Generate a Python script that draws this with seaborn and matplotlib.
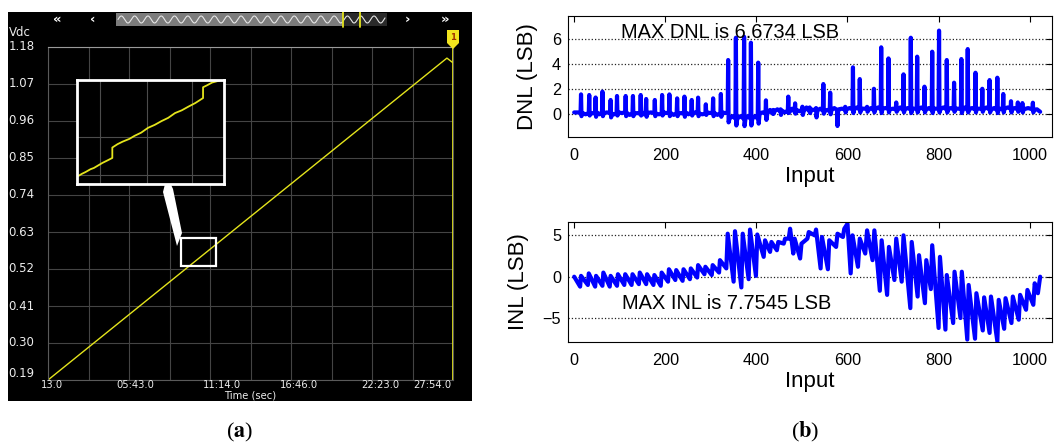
import numpy as np
import pandas as pd
import matplotlib
matplotlib.use("Agg")
import matplotlib.pyplot as plt
import seaborn as sns
from matplotlib.patches import Rectangle, Polygon

# ---------------- panel (a): oscilloscope ramp ----------------
ramp_div = [0.0, 9.85, 10.0]
ramp_vdc = [0.19, 1.147, 1.133]
vdc_ticks = [1.18, 1.07, 0.96, 0.85, 0.74, 0.63, 0.52, 0.41, 0.30, 0.19]
vdc_labels = ["1.18", "1.07", "0.96", "0.85", "0.74", "0.63", "0.52", "0.41", "0.30", "0.19"]
time_labels = ["13.0", "05:43.0", "11:14.0", "16:46.0", "22:23.0", "27:54.0"]
time_label_div = [0.1, 2.15, 4.3, 6.2, 8.2, 9.5]
zoom_div = [3.28, 4.15]
zoom_vdc = [0.529, 0.612]
inset_div = [3.28, 3.31, 3.33, 3.36, 3.38, 3.41, 3.43, 3.46, 3.489, 3.489, 3.52, 3.55, 3.59, 3.62, 3.66,
             3.70, 3.74, 3.78, 3.82, 3.86, 3.90, 3.94, 3.98, 4.026, 4.026, 4.05, 4.08, 4.15]
inset_vdc = [0.5348, 0.5372, 0.5385, 0.5408, 0.5418, 0.5442, 0.5458, 0.5478, 0.5498, 0.5581, 0.5608,
             0.5628, 0.5650, 0.5674, 0.5700, 0.5738, 0.5762, 0.5792, 0.5818, 0.5856, 0.5878, 0.5908,
             0.5936, 0.5976, 0.6062, 0.6078, 0.6100, 0.6125]

# ---------------- panel (b): DNL ----------------
dnl_spike_x = [15, 33, 47, 62, 80, 94, 113, 129, 146, 158,
               177, 193, 209, 226, 242, 258, 272, 289, 305, 322,
               338, 355, 373, 388, 404, 421, 437, 453, 470, 485,
               501, 517, 531, 547, 562, 578, 595, 612, 627, 643,
               658, 674, 690, 707, 723, 739, 753, 769, 786, 801,
               818, 834, 850, 864, 881, 896, 912, 929, 942, 959,
               974, 984, 1007]
dnl_spike_h = [1.55, 1.5, 1.3, 1.77, 1.1, 1.42, 1.42, 1.42, 1.5, 1.18,
               1.1, 1.5, 1.55, 1.23, 1.37, 1.1, 1.29, 0.75, 1.23, 1.58,
               4.31, 6.1, 6.18, 5.7, 4.1, 1.07, 0.3, 0.35, 1.37, 0.83,
               0.56, 0.5, 0.45, 2.38, 1.69, -0.99, 0.55, 3.72, 2.78, 0.55,
               2.0, 5.33, 4.44, 0.9, 3.16, 6.1, 4.58, 2.17, 4.98, 6.6734,
               4.31, 2.49, 4.39, 5.19, 3.29, 2.0, 2.7, 2.89, 1.58, 1.0,
               0.9, 0.85, 0.88]
dnl_dip = [-0.2, -0.15, -0.25, -0.2, -0.3, -0.15, -0.2, -0.2, -0.15, -0.25,
           -0.2, -0.15, -0.2, -0.2, -0.25, -0.15, -0.2, -0.1, -0.2, -0.25,
           -0.7, -0.95, -1.0, -0.95, -0.8, -0.5, 0.0, -0.1, 0.05, 0.0,
           -0.1, 0.05, -0.3, 0.0, -0.05, 0.1, 0.1, 0.05, 0.1, 0.15,
           0.1, 0.05, 0.1, 0.15, 0.1, 0.05, 0.1, 0.1, 0.05, 0.1,
           0.1, 0.15, 0.05, 0.1, 0.1, 0.15, 0.1, 0.05, 0.1, 0.1,
           0.15, 0.1, 0.1]
dnl_base = [0.05, 0.0, 0.1, 0.05, 0.0, 0.1, 0.05, 0.0, 0.1, 0.05,
            0.0, 0.1, 0.05, 0.0, 0.1, 0.05, 0.0, 0.1, 0.05, 0.1,
            -0.4, -0.4, -0.4, -0.4, 0.0, 0.0, 0.2, 0.25, 0.15, 0.3,
            0.2, 0.35, 0.25, 0.2, 0.3, 0.35, 0.35, 0.35, 0.4, 0.3,
            0.35, 0.4, 0.35, 0.3, 0.35, 0.4, 0.35, 0.3, 0.4, 0.35,
            0.35, 0.4, 0.3, 0.35, 0.4, 0.35, 0.3, 0.35, 0.4, 0.35,
            0.3, 0.35, 0.3]
dnl_mid = [-0.05, 0.05, -0.05, 0.1, -0.05, 0.05, -0.1, 0.05, -0.05, 0.1,
           -0.05, 0.05, -0.1, 0.05, -0.05, 0.1, -0.05, 0.05, -0.1, 0.05,
           -0.2, -0.2, -0.2, -0.2, 0.1, 0.3, 0.35, 0.1, 0.4, 0.2,
           0.5, 0.3, 0.4, 0.3, 0.45, 0.4, 0.45, 0.5, 0.4, 0.45,
           0.5, 0.45, 0.4, 0.5, 0.45, 0.4, 0.5, 0.45, 0.4, 0.5,
           0.45, 0.4, 0.5, 0.45, 0.4, 0.5, 0.45, 0.4, 0.5, 0.45,
           0.4, 0.45, 0.35]
dnl_start_y = 0.1
dnl_end_x, dnl_end_y = 1023, 0.15

# ---------------- panel (b): INL ----------------
inl_x = [0, 13, 15, 30, 32, 46, 48, 62, 64, 78, 80, 94, 96, 110, 112, 126, 128, 142, 144,
         158, 160, 174, 176, 190, 192, 206, 208, 222, 224, 238, 240, 254, 256, 270, 272,
         286, 288, 302, 304, 318, 320, 334, 337, 350, 353, 367, 370, 383, 386, 399, 402,
         416, 419, 430, 433, 445, 448, 460, 463, 471, 474, 481, 484, 496, 499, 512, 515,
         528, 531, 541, 544, 557, 560, 575, 578, 590, 593, 600, 607, 611, 623, 627, 639, 643,
         655, 659, 671, 675, 687, 691, 703, 707, 719, 723, 738, 741, 754, 757, 770, 773,
         783, 786, 800, 803, 815, 818, 832, 835, 848, 851, 863, 866, 880, 883, 897, 900,
         912, 915, 929, 932, 944, 947, 960, 963, 976, 979, 992, 995, 1008, 1011, 1018, 1023]
inl_y = [0.0, -1.2, 0.1, -1.0, 0.4, -1.2, 0.1, -1.1, 0.5, -1.2, 0.1, -1.1, 0.3, -1.0, 0.3, -1.0, 0.3, -0.9, 0.5,
         -0.9, 0.3, -1.0, 0.2, -1.1, 0.5, -0.6, 0.9, -0.4, 0.8, -0.5, 0.9, -0.3, 1.0, -0.1, 1.4,
         0.3, 1.2, 0.2, 1.4, 0.5, 2.0, 1.0, 5.2, -0.6, 5.5, -1.3, 5.2, -0.3, 5.7, 0.1, 5.1,
         2.4, 4.4, 3.0, 4.2, 3.2, 4.2, 4.0, 4.6, 4.6, 5.8, 2.8, 4.6, 2.2, 4.0, 4.6, 5.4,
         5.0, 5.7, 1.0, 4.8, 0.9, 4.4, 3.6, 5.2, 4.8, 5.8, 6.4, 0.4, 5.0, 1.2, 4.6, 2.8, 5.6,
         2.0, 5.6, -1.7, 4.4, -2.2, 3.6, -0.4, 4.6, -0.6, 5.0, -3.8, 4.2, -2.4, 2.6, -3.2, 2.0,
         -1.5, 3.8, -6.2, 2.4, -6.4, 0.2, -5.6, 0.6, -5.0, 0.6, -7.6, -1.0, -7.5, -2.0, -6.5, -2.5,
         -6.8, -2.4, -7.8, -2.8, -6.3, -2.6, -5.6, -2.4, -5.2, -2.2, -4.0, -1.6, -3.4, -0.8, -2.0, 0.0]

input_ticks = [0, 200, 400, 600, 800, 1000]
dnl_ticks = [0, 2, 4, 6]
inl_ticks = [-5, 0, 5]
dnl_text = "MAX DNL is 6.6734 LSB"
inl_text = "MAX INL is 7.7545 LSB"

# ---------------- build DNL polyline from read values ----------------
dnl_x, dnl_y = [0], [dnl_start_y]
prev = dnl_start_y
nexts = dnl_spike_x[1:] + [dnl_end_x]
for x, h, d, b, m, nx in zip(dnl_spike_x, dnl_spike_h, dnl_dip, dnl_base, dnl_mid, nexts):
    dnl_x += [x - 1, x, x + 1, x + 3, (x + 3 + nx - 1) / 2]
    dnl_y += [prev, h, d, b, m]
    prev = b
dnl_x.append(dnl_end_x)
dnl_y.append(dnl_end_y)

# ---------------- figure ----------------
sns.set_theme(style="white")
plt.rcParams["font.family"] = ["Liberation Sans", "DejaVu Sans"]
plt.rcParams["text.color"] = "black"
plt.rcParams["axes.labelcolor"] = "black"
plt.rcParams["xtick.color"] = "black"
plt.rcParams["ytick.color"] = "black"
W, H = 1056, 445
fig = plt.figure(figsize=(W / 100, H / 100), dpi=100)


def box(x0, y0, x1, y1):
    return [x0 / W, 1 - y1 / H, (x1 - x0) / W, (y1 - y0) / H]


YEL = "#e4e41c"
LBL = "#ececec"

# background of panel (a)
bg = fig.add_axes(box(8, 12, 472, 401))
bg.set_facecolor("black")
bg.set_xticks([]); bg.set_yticks([])
for s in bg.spines.values():
    s.set_visible(False)

ax_a = fig.add_axes(box(48, 47, 453, 380))
ax_a.set_facecolor("none")
ax_a.set_xlim(0, 10)
ax_a.set_ylim(0.19, 1.18)
ax_a.set_xticks(range(11))
ax_a.set_yticks(vdc_ticks)
ax_a.tick_params(length=0, labelbottom=False, labelleft=False)
ax_a.grid(True, color="#444444", lw=0.8)
for s in ax_a.spines.values():
    s.set_color("#5a5a5a"); s.set_linewidth(0.8)
ax_a.spines["top"].set_color("#9a9a9a")
sns.lineplot(x=ramp_div, y=ramp_vdc, ax=ax_a, color=YEL, lw=1.0,
             estimator=None, sort=False, errorbar=None)
ax_a.axvline(10, color=YEL, lw=1.3)
ax_a.add_patch(Rectangle((zoom_div[0], zoom_vdc[0]), zoom_div[1] - zoom_div[0],
                         zoom_vdc[1] - zoom_vdc[0], fill=False, ec="white", lw=1.6, zorder=5))
ytr = ax_a.get_yaxis_transform()
for v, lab in zip(vdc_ticks, vdc_labels):
    ax_a.text(-0.097, v, lab, transform=ytr, ha="left",
              va="bottom" if lab == "0.19" else "center",
              color=LBL, fontsize=8.5, family="DejaVu Sans")
xtr = ax_a.get_xaxis_transform()
for d, lab in zip(time_label_div, time_labels):
    ax_a.text(d, -0.016, lab, transform=xtr, ha="center", va="center",
              color=LBL, fontsize=7.2, family="DejaVu Sans")
ax_a.text(5.0, -0.046, "Time (sec)", transform=xtr, ha="center", va="center",
          color=LBL, fontsize=7.2, family="DejaVu Sans")

# overlay (pixel coordinates) for oscilloscope decorations
ov = fig.add_axes(box(8, 12, 472, 401))
ov.set_facecolor("none")
ov.set_xlim(8, 472); ov.set_ylim(401, 12)
ov.set_xticks([]); ov.set_yticks([])
for s in ov.spines.values():
    s.set_visible(False)
ov.text(9, 32, "Vdc", color=LBL, fontsize=8.5, family="DejaVu Sans", ha="left", va="center")
ov.add_patch(Rectangle((116, 13), 227, 13, fc="#7c7c7c", ec="none"))
ov.add_patch(Rectangle((343, 13), 44, 13, fc="#2a2a2a", ec="none"))
wx = np.linspace(118, 385, 400)
ov.plot(wx, 19.5 - 3.5 * np.sin((wx - 118) / 13.3 * 2 * np.pi), color="#e6e6e6", lw=0.8)
ov.plot([343, 343], [12, 27], color=YEL, lw=1.3)
ov.plot([360, 360], [12, 27], color=YEL, lw=1.3)
for xx, sym in [(57, "«"), (93, "‹"), (407, "›"), (445, "»")]:
    ov.text(xx, 19, sym, color="white", fontsize=9.5, fontweight="bold",
            family="DejaVu Sans", ha="center", va="center")
ov.add_patch(Polygon([(447, 30), (459, 30), (459, 43), (453, 49), (447, 43)],
                     closed=True, fc="#f2e41e", ec="none"))
ov.text(453, 37, "1", color="#a03000", fontsize=6, fontweight="bold",
        family="DejaVu Sans", ha="center", va="center")
ov.add_patch(Polygon([(167, 176), (173, 189), (182, 233), (177, 246), (163, 192)],
                     closed=True, fc="white", ec="none"))

# inset zoom window
ax_in = fig.add_axes(box(77, 80, 224, 184))
ax_in.set_facecolor("black")
ax_in.set_xlim(zoom_div[0], zoom_div[1])
ax_in.set_ylim(zoom_vdc[0], zoom_vdc[1])
ax_in.set_xticks([3.416, 3.694, 3.960])
ax_in.set_yticks([0.5362, 0.5665])
ax_in.tick_params(length=0, labelbottom=False, labelleft=False)
ax_in.grid(True, color="#4c4c4c", lw=0.8)
for s in ax_in.spines.values():
    s.set_color("white"); s.set_linewidth(2.0)
sns.lineplot(x=inset_div, y=inset_vdc, ax=ax_in, color=YEL, lw=1.3,
             estimator=None, sort=False, errorbar=None)

# ---------------- panel (b) ----------------
ax1 = fig.add_axes(box(568, 15.7, 1052, 136.7))
ax2 = fig.add_axes(box(568, 221.7, 1052, 341.7))
sns.lineplot(x=dnl_x, y=dnl_y, ax=ax1, color="#0000ff", lw=3.0,
             estimator=None, sort=False, errorbar=None)
sns.lineplot(x=inl_x, y=inl_y, ax=ax2, color="#0000ff", lw=3.0,
             estimator=None, sort=False, errorbar=None)
for ax, yt, ylim, lab in [(ax1, dnl_ticks, (-1.85, 7.87), "DNL (LSB)"),
                          (ax2, inl_ticks, (-7.86, 6.65), "INL (LSB)")]:
    ax.set_facecolor("white")
    ax.set_xlim(-13.6, 1049)
    ax.set_ylim(*ylim)
    ax.set_xticks(input_ticks)
    ax.set_yticks(yt)
    ax.tick_params(direction="in", length=4, width=0.8, top=True, right=True,
                   labelsize=11.7, pad=8, colors="black", labelcolor="black")
    ax.tick_params(axis="y", pad=5)
    ax.yaxis.grid(True, color="#222222", ls=":", lw=0.9)
    ax.xaxis.grid(False)
    for s in ax.spines.values():
        s.set_color("black"); s.set_linewidth(0.8)
    ax.set_xlabel("Input", fontsize=16, labelpad=2, color="black")
    ax.set_ylabel(lab, fontsize=16, labelpad=10, color="black")
ax1.text(102, 6.56, dnl_text, fontsize=14.4, ha="left", va="center", color="black")
ax2.text(104, -3.2, inl_text, fontsize=14.4, ha="left", va="center", color="black")

fig.text(240 / W, 1 - 432 / H, r"($\mathbf{a}$)", fontsize=16, ha="center", va="center",
         family="Liberation Serif", math_fontfamily="stix", color="black")
fig.text(805 / W, 1 - 432 / H, r"($\mathbf{b}$)", fontsize=16, ha="center", va="center",
         family="Liberation Serif", math_fontfamily="stix", color="black")

fig.savefig("out.png", dpi=100, facecolor="white")
